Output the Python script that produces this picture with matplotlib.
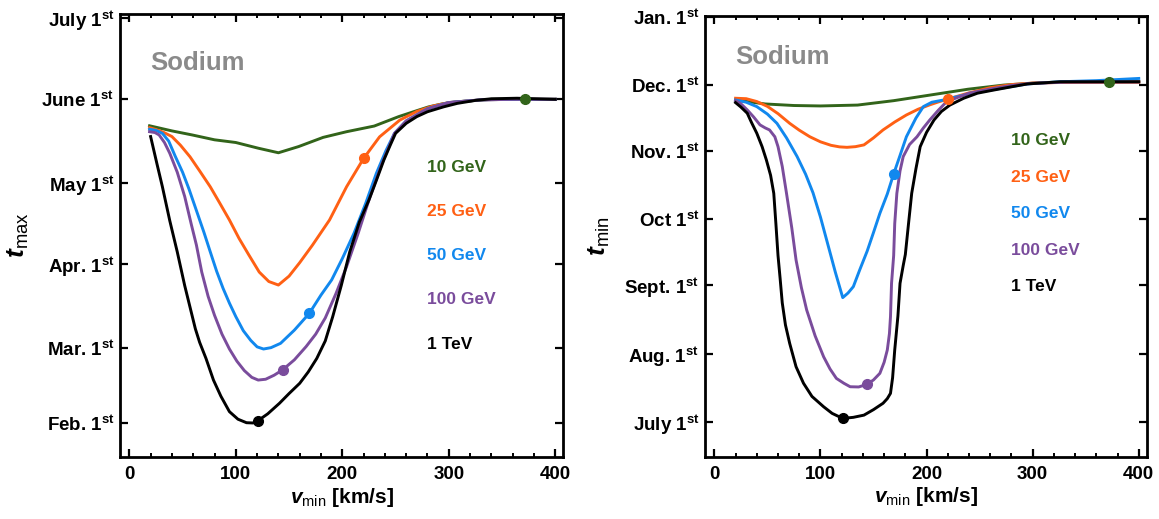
import matplotlib
matplotlib.use("Agg")
import matplotlib.pyplot as plt
from matplotlib.ticker import MultipleLocator

plt.rcParams['font.family'] = ['Liberation Sans', 'DejaVu Sans']
plt.rcParams['mathtext.fontset'] = 'custom'
plt.rcParams['mathtext.rm'] = 'Liberation Sans'
plt.rcParams['mathtext.bf'] = 'Liberation Sans:bold'
plt.rcParams['mathtext.it'] = 'Liberation Sans:italic'
plt.rcParams['mathtext.bfit'] = 'Liberation Sans:italic:bold'

# ---- data: day of year vs v_min [km/s] ----
masses = ["10 GeV", "25 GeV", "50 GeV", "100 GeV", "1 TeV"]
colors = ["#32641a", "#ff6014", "#1188ee", "#7a4c9c", "#000000"]

# left panel: t_max
max_x = [
    [19, 40, 59, 80, 100, 121, 140, 159, 182, 204, 230, 253, 270, 281, 295, 308, 340, 372, 400],
    [19, 25, 32, 40, 48, 57, 66, 76, 85, 94, 103, 112, 122, 131, 140, 150, 160, 172, 188, 204,
     220, 235, 254, 270, 285, 300, 330, 360, 400],
    [19, 25, 31, 37, 43, 50, 56, 63, 70, 76, 82, 88, 94, 100, 107, 114, 120, 126, 133, 142, 155,
     169, 180, 190, 200, 211, 222, 232, 241, 249, 260, 280, 300, 330, 360, 400],
    [19, 24, 28, 33, 38, 45, 52, 58, 63, 68, 74, 80, 87, 94, 101, 108, 115, 121, 128, 136, 144,
     155, 166, 175, 184, 194, 204, 215, 225, 237, 249, 260, 280, 300, 330, 360, 400],
    [20, 26, 31, 38, 45, 52, 57, 62, 66, 72, 79, 86, 94, 102, 110, 116, 121, 130, 141, 150, 160,
     168, 176, 184, 191, 199, 207, 216, 225, 232, 239, 245, 250, 260, 270, 280, 295, 308, 325,
     340, 364, 400],
]
max_d = [
    [142.2, 140.3, 138.8, 137.0, 136.0, 133.9, 132.2, 134.5, 137.9, 140.0, 142.1, 145.6, 147.8,
     149.2, 150.4, 151.1, 152.0, 152.0, 152.0],
    [141.5, 140.8, 139.8, 138.2, 135.0, 130.7, 125.5, 119.6, 113.5, 107.3, 100.5, 94.5, 88.0,
     84.5, 83.2, 86.5, 91.5, 98.0, 107.3, 119.6, 130.1, 138.1, 144.3, 147.5, 149.5, 150.8,
     151.8, 152.0, 152.0],
    [140.9, 140.5, 139.4, 136.5, 131.0, 125.0, 118.8, 110.8, 102.8, 95.5, 88.3, 82.0, 76.5,
     71.5, 66.3, 62.7, 60.3, 59.5, 60.0, 61.6, 66.5, 72.7, 79.5, 85.1, 93.0, 102.4, 113.5,
     124.6, 133.0, 139.4, 144.0, 148.5, 150.8, 151.8, 152.0, 152.0],
    [140.0, 139.7, 138.8, 136.0, 132.0, 125.0, 116.0, 106.0, 98.0, 88.0, 79.0, 72.0, 65.0,
     59.5, 55.0, 51.5, 49.0, 48.0, 48.3, 49.8, 51.8, 55.5, 60.4, 65.0, 71.0, 80.0, 90.0,
     102.5, 114.7, 128.0, 139.4, 144.0, 148.5, 150.8, 151.8, 152.0, 152.0],
    [138.2, 128.0, 119.7, 107.0, 95.5, 83.0, 75.0, 67.0, 62.0, 56.0, 48.0, 42.0, 36.3, 33.5,
     32.2, 32.1, 33.0, 35.5, 39.4, 43.0, 46.8, 51.0, 56.0, 62.5, 71.5, 83.0, 95.5, 106.5,
     114.7, 122.0, 129.5, 135.0, 139.4, 143.1, 145.6, 147.4, 149.2, 150.5, 151.6, 152.2,
     152.4, 152.0],
]
max_marker_x = [372, 220, 169, 144, 121]
max_marker_d = [152.0, 130.1, 72.7, 51.8, 33.0]

# right panel: t_min
min_x = [
    [20, 48, 75, 100, 135, 169, 204, 239, 273, 308, 343, 372, 400],
    [20, 30, 40, 50, 60, 71, 80, 90, 100, 110, 118, 125, 133, 141, 150, 159, 170, 181, 192, 203,
     211, 219, 239, 260, 280, 300, 330, 400],
    [20, 30, 40, 50, 59, 68, 78, 86, 93, 100, 107, 114, 121, 126, 131, 137, 144, 150, 156, 163,
     169, 175, 181, 190, 197, 205, 216, 240, 260, 295, 326, 360, 400],
    [20, 25, 31, 37, 43, 48, 52, 57, 60, 64, 68, 73, 77, 82, 87, 95, 103, 109, 115, 122, 128,
     136, 144, 150, 156, 160, 163, 165, 166, 167, 169, 170, 172, 175, 178, 184, 191, 197, 203,
     211, 219, 240, 260, 280, 300, 330, 400],
    [20, 25, 31, 35, 40, 45, 49, 53, 56, 58, 60, 62, 64, 67, 71, 77, 84, 92, 103, 111, 121, 131,
     141, 150, 159, 163, 166, 168, 170, 173, 175, 178, 180, 183, 186, 190, 194, 200, 207, 214,
     222, 235, 248, 263, 280, 295, 326, 360, 400],
]
min_d = [
    [328.2, 326.4, 325.7, 325.5, 325.9, 327.9, 330.5, 333.1, 335.0, 336.1, 336.5, 336.5, 336.5],
    [329.0, 328.8, 327.5, 325.3, 322.0, 317.6, 314.5, 311.5, 309.2, 307.6, 306.9, 306.7, 307.0,
     307.8, 311.0, 314.6, 318.2, 321.4, 324.0, 326.0, 327.3, 328.5, 331.3, 333.8, 335.2, 335.9,
     336.2, 336.3],
    [328.2, 327.2, 325.2, 321.8, 317.6, 311.0, 302.5, 294.5, 286.0, 275.0, 262.5, 250.0, 238.4,
     240.5, 243.4, 251.0, 259.5, 268.0, 276.7, 285.5, 294.6, 303.0, 311.5, 320.0, 325.2, 327.2,
     328.2, 331.0, 332.7, 335.5, 336.5, 337.0, 338.0],
    [327.9, 326.5, 323.7, 320.5, 316.9, 315.5, 314.6, 311.5, 307.0, 298.0, 285.8, 270.0, 255.5,
     243.0, 232.8, 221.0, 211.5, 206.0, 201.7, 199.5, 197.9, 197.8, 199.0, 201.0, 204.0, 209.0,
     214.6, 222.0, 229.7, 244.9, 257.5, 272.0, 285.8, 296.0, 302.5, 308.0, 311.5, 315.5, 319.1,
     323.5, 327.5, 331.3, 333.2, 334.8, 335.8, 336.3, 336.4],
    [327.0, 325.0, 322.2, 318.0, 313.1, 307.0, 301.0, 294.0, 285.8, 272.0, 257.5, 247.0, 236.0,
     226.0, 217.6, 207.0, 199.5, 193.5, 188.8, 185.8, 183.5, 184.0, 185.0, 187.5, 190.4, 192.5,
     194.9, 202.0, 214.6, 230.0, 244.9, 253.0, 258.0, 272.0, 285.8, 297.0, 307.0, 313.5, 319.1,
     323.0, 325.9, 329.0, 331.3, 332.7, 334.2, 335.5, 336.5, 336.5, 336.5],
]
min_marker_x = [372, 220, 169, 144, 121]
min_marker_d = [336.4, 328.6, 294.6, 199.0, 183.5]

max_ticks = [32, 60, 91, 121, 152, 182]
max_labels = ["Feb.", "Mar.", "Apr.", "May", "June", "July"]
min_ticks = [182, 213, 244, 274, 305, 335, 366]
min_labels = ["July", "Aug.", "Sept.", "Oct", "Nov.", "Dec.", "Jan."]

max_text_d = [126.8, 110.6, 94.1, 77.7, 61.0]
min_text_d = [309.6, 293.1, 276.4, 260.0, 243.4]

fig = plt.figure(figsize=(11.59, 5.19), dpi=100)
ax1 = fig.add_axes([0.1035, 0.120, 0.3825, 0.853])
ax2 = fig.add_axes([0.6083, 0.120, 0.3811, 0.8497])

panels = [
    (ax1, max_x, max_d, max_marker_x, max_marker_d, max_ticks, max_labels, max_text_d,
     (19.6, 183.6), 165.6, r'$\mathbfit{t}_{\mathrm{max}}$'),
    (ax2, min_x, min_d, min_marker_x, min_marker_d, min_ticks, min_labels, min_text_d,
     (166.1, 366.5), 347.8, r'$\mathbfit{t}_{\mathrm{min}}$'),
]

for ax, xs, ds, mx, md, ticks, labels, text_d, ylim, sod_y, ylab in panels:
    for i in range(len(masses)):
        ax.plot(xs[i], ds[i], color=colors[i], lw=2.1, solid_joinstyle='round')
    for i in range(len(masses)):
        ax.plot(mx[i], md[i], 'o', color=colors[i], ms=7, zorder=5)
        ax.text(280, text_d[i], masses[i], color=colors[i], fontsize=12.5,
                fontweight='bold', va='center', ha='left')
    ax.text(20, sod_y, "Sodium", color="#8a8a8a", fontsize=18.5, fontweight='bold',
            va='center', ha='left')

    ax.set_xlim(-8.8, 407.5)
    ax.set_ylim(*ylim)
    ax.xaxis.set_major_locator(MultipleLocator(100))
    ax.xaxis.set_minor_locator(MultipleLocator(20))
    ax.set_yticks(ticks)
    ax.set_yticklabels([l + r' 1$^{\mathbf{st}}$' for l in labels])
    for t in ax.get_xticklabels() + ax.get_yticklabels():
        t.set_fontweight('bold')
    ax.tick_params(which='both', direction='in', top=True, right=True, labelsize=13.5)
    ax.tick_params(which='major', length=6, width=1.6)
    ax.tick_params(which='minor', length=3, width=1.4)
    ax.tick_params(axis='x', pad=7)
    ax.tick_params(axis='y', pad=4)
    for s in ax.spines.values():
        s.set_linewidth(2.0)

    ax.set_xlabel(r'$\mathbfit{v}_{\mathrm{min}}$ [km/s]', fontsize=15, fontweight='bold',
                  va='center')
    ax.xaxis.set_label_coords(0.5, -0.091)
    ax.set_ylabel(ylab, fontsize=19, va='center')

ax1.yaxis.set_label_coords(-0.23, 0.5)
ax2.yaxis.set_label_coords(-0.238, 0.5)

fig.savefig("out.png", dpi=100)
